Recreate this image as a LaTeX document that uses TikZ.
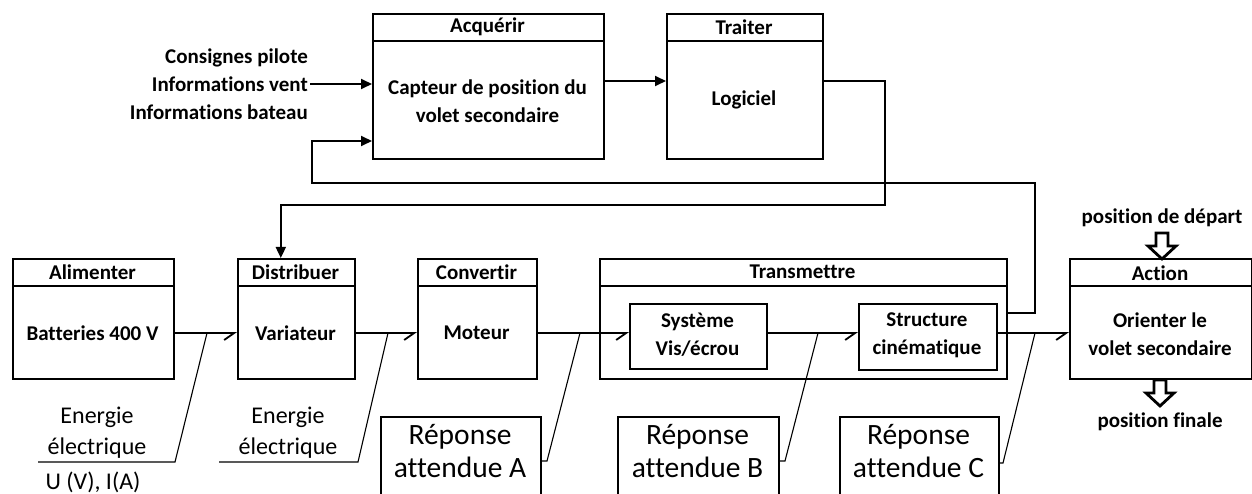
\documentclass[tikz,border=0pt]{standalone}
\usepackage{fontspec}
\setmainfont{Carlito}[Ligatures=NoCommon]
\usetikzlibrary{arrows.meta}
\begin{document}
\begin{tikzpicture}[x=1pt,y=-1pt,
  box/.style={draw, line width=1.6pt, inner sep=0pt, anchor=north west},
  sepline/.style={line width=1.6pt},
  lbl/.style={font=\bfseries\fontsize{21}{28}\selectfont, align=center, inner sep=0pt},
  bigtxt/.style={font=\fontsize{24}{31}\selectfont, align=center, inner sep=0pt},
  reptxt/.style={font=\fontsize{29.5}{33}\selectfont, align=center, inner sep=0pt},
  conn/.style={line width=1.8pt, -{Triangle[length=11pt,width=10pt]}},
  flow/.style={line width=2.4pt, -{Straight Barb[harpoon,swap,length=10pt,width=14pt,line width=1.8pt]}},
  leader/.style={line width=1.1pt},
  fat/.style={line width=2.8pt, line join=miter}
]
\clip (0,0) rectangle (1252,494);
\fill[white] (0,0) rectangle (1252,494);

% ---------- top row ----------
\node[box, minimum width=231pt, minimum height=145pt] (acq) at (372,13) {};
\node[box, minimum width=156pt, minimum height=145pt] (trait) at (666,13) {};
\draw[sepline] ([yshift=-28pt]acq.north west) -- ([yshift=-28pt]acq.north east);
\draw[sepline] ([yshift=-28pt]trait.north west) -- ([yshift=-28pt]trait.north east);
\node[lbl] (acqh) at (487.5,27) {Acquérir};
\node[lbl] (acqb) at (487.5,101) {Capteur de position du\\volet secondaire};
\node[lbl] (traith) at (744,27) {Traiter};
\node[lbl] (traitb) at (744,100) {Logiciel};
\node[lbl, align=right, anchor=east] (inp) at (308,84) {Consignes pilote\\Informations vent\\Informations bateau};

% ---------- bottom row ----------
\node[box, minimum width=161pt, minimum height=120pt] (alim) at (12,258) {};
\node[box, minimum width=117pt, minimum height=120pt] (dist) at (237,258) {};
\node[box, minimum width=119pt, minimum height=120pt] (conv) at (417,258) {};
\node[box, minimum width=407pt, minimum height=120pt] (trans) at (599,258) {};
\node[box, minimum width=182pt, minimum height=120pt] (act) at (1069,258) {};
\foreach \b in {alim,dist,conv,trans,act}
  \draw[sepline] ([yshift=-28pt]\b.north west) -- ([yshift=-28pt]\b.north east);
\node[box, minimum width=137pt, minimum height=65pt] (sys) at (629,303) {};
\node[box, minimum width=138pt, minimum height=66pt] (struc) at (858,303) {};

\node[lbl] (alimh) at (92.5,272) {Alimenter};
\node[lbl] (batt) at (92.5,333) {Batteries 400 V};
\node[lbl] (disth) at (295.5,272) {Distribuer};
\node[lbl] (var) at (295.5,333) {Variateur};
\node[lbl] (convh) at (476.5,272) {Convertir};
\node[lbl] (mot) at (476.5,333) {Moteur};
\node[lbl] (transh) at (802.5,272) {Transmettre};
\node[lbl] (syst) at (697.5,335) {Système\\Vis/écrou};
\node[lbl] (structt) at (927,335) {Structure\\cinématique};
\node[lbl] (acth) at (1160,273) {Action};
\node[lbl] (actb) at (1160,334) {Orienter le\\volet secondaire};
\node[lbl] (pdep) at (1162,218) {position de départ};
\node[lbl] (pfin) at (1160,422) {position finale};

% ---------- answer boxes ----------
\node[box, minimum width=160pt, minimum height=90pt] (repA) at (380,416) {};
\node[box, minimum width=161pt, minimum height=90pt] (repB) at (617,416) {};
\node[box, minimum width=159pt, minimum height=90pt] (repC) at (839,416) {};
\node[reptxt] (repAt) at (460,451) {Réponse\\attendue A};
\node[reptxt] (repBt) at (697.5,451) {Réponse\\attendue B};
\node[reptxt] (repCt) at (918.5,451) {Réponse\\attendue C};

\node[bigtxt] (e1) at (97,433) {Energie\\électrique};
\node[bigtxt] (u1) at (93,482) {U (V), I(A)};
\node[bigtxt] (e2) at (288,433) {Energie\\électrique};

% ---------- flow ----------
\draw[flow] (alim.east |- batt) -- (dist.west |- batt);
\draw[flow] (dist.east |- batt) -- (conv.west |- batt);
\draw[flow] (conv.east |- batt) -- (sys.west |- batt);
\draw[flow] (sys.east |- batt) -- (struc.west |- batt);
\draw[flow] (struc.east |- batt) -- (act.west |- batt);

% ---------- leaders ----------
\coordinate (j1) at (207,333); \coordinate (k1) at (175,462); \coordinate (m1) at (38,462);
\coordinate (j2) at (388,333); \coordinate (k2) at (358,462); \coordinate (m2) at (219,462);
\coordinate (j3) at (580,333); \coordinate (k3) at (547,461);
\coordinate (j4) at (818,333); \coordinate (k4) at (785,461);
\coordinate (j5) at (1035,333); \coordinate (k5) at (1003,463);
\draw[leader] (j1) -- (k1) -- (m1);
\draw[leader] (j2) -- (k2) -- (m2);
\draw[leader] (j3) -- (k3) -- (k3 -| repA.east);
\draw[leader] (j4) -- (k4) -- (k4 -| repB.east);
\draw[leader] (j5) -- (k5) -- (k5 -| repC.east);

% ---------- information connectors ----------
\draw[conn] ([xshift=2pt]inp.east) -- (inp.east -| acq.west);
\draw[conn] ([yshift=-68pt]acq.north east) -- ([yshift=-68pt]trait.north west);
\coordinate (c1) at (885,205);
\draw[conn] ([yshift=-68pt]trait.north east) -| (c1) -| ([xshift=-15.5pt]dist.north);
\coordinate (c2) at (1035,183);
\coordinate (c3) at (312,141);
\draw[conn] ([yshift=-55pt]trans.north east) -| (c2) -| (c3) -- (c3 -| acq.west);

% ---------- hollow arrows ----------
\coordinate (fa) at (1162,233);
\draw[fat] (fa) ++(-6,0) -- ++(12,0) -- ++(0,13) -- ++(8,0) -- ++(-14,13) -- ++(-14,-13) -- ++(8,0) -- cycle;
\coordinate (fb) at (1160,380);
\draw[fat] (fb) ++(-6,0) -- ++(12,0) -- ++(0,13) -- ++(8,0) -- ++(-14,13) -- ++(-14,-13) -- ++(8,0) -- cycle;
\end{tikzpicture}
\end{document}
